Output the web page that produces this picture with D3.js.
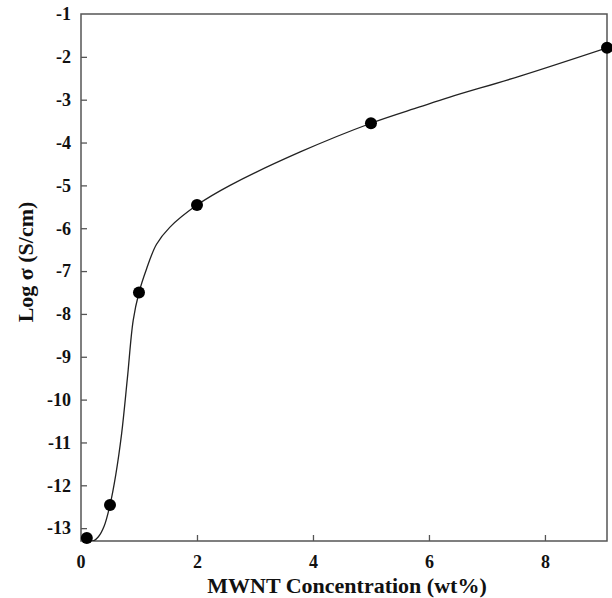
<!DOCTYPE html>
<html>
<head>
<meta charset="utf-8">
<script src="https://cdn.jsdelivr.net/npm/d3@7"></script>
<style>
  body { margin: 0; background: #fff; }
  svg { display: block; }
  text { font-family: "Liberation Serif", "Times New Roman", serif; font-weight: bold; fill: #111; }
</style>
</head>
<body>
<div id="chart"></div>
<script>
// measured points
var conc = [0.1, 0.5, 1, 2, 5, 9.07];
var logSigma = [-13.23, -12.46, -7.5, -5.46, -3.55, -1.79];

// fitted curve
var fitX = [0.1, 0.2, 0.3, 0.4, 0.5, 0.6, 0.7, 0.8, 0.9, 1.0, 1.13, 1.3, 1.53, 2.0, 2.57, 3.78, 5.0, 5.84, 6.36, 7.57, 9.07];
var fitY = [-13.23, -13.3, -13.2, -12.95, -12.46, -11.75, -10.8, -9.5, -8.15, -7.5, -6.95, -6.38, -5.98, -5.46, -5.0, -4.22, -3.55, -3.17, -2.94, -2.45, -1.79];

var xTicks = [2, 4, 6, 8];
var yTicks = [-2, -3, -4, -5, -6, -7, -8, -9, -10, -11, -12, -13];
var yLabels = [-1, -2, -3, -4, -5, -6, -7, -8, -9, -10, -11, -12, -13];

var W = 612, H = 598;
var margin = {left: 81, top: 14, right: 5, bottom: 57};
var w = W - margin.left - margin.right,
    h = H - margin.top - margin.bottom;

var svg = d3.select("#chart").append("svg")
    .attr("width", W)
    .attr("height", H);

var x = d3.scaleLinear().domain([0, 9.07]).range([0, w]);
var y = d3.scaleLinear().domain([-13.3, -1]).range([h, 0]);

var g = svg.append("g")
    .attr("transform", "translate(" + margin.left + "," + margin.top + ")");

g.append("clipPath").attr("id", "clip")
    .append("rect").attr("width", w).attr("height", h);

// ticks (inward)
var xAxis = d3.axisBottom(x).tickValues(xTicks).tickSize(-6).tickPadding(14).tickFormat(d3.format("d"));
var gx = g.append("g").attr("transform", "translate(0," + h + ")").call(xAxis);
gx.attr("font-family", null).attr("font-size", null);
gx.select(".domain").remove();
gx.selectAll("line").attr("stroke", "#555").attr("stroke-width", 1.3);
gx.selectAll("text").style("font-size", "18px").attr("fill", "#111");

var yAxis = d3.axisLeft(y).tickValues(yTicks).tickSize(-6).tickFormat("");
var gy = g.append("g").call(yAxis);
gy.select(".domain").remove();
gy.selectAll("line").attr("stroke", "#555").attr("stroke-width", 1.3);

g.selectAll(".ylab")
    .data(yLabels)
    .enter()
    .append("text")
    .attr("class", "ylab")
    .attr("x", -10)
    .attr("y", function(d) { return y(d); })
    .attr("dy", "0.35em")
    .attr("text-anchor", "end")
    .style("font-size", "18px")
    .text(function(d) { return d; });

// x = 0 label
g.append("text")
    .attr("x", x(0))
    .attr("y", h + 14)
    .attr("dy", "0.71em")
    .attr("text-anchor", "middle")
    .style("font-size", "18px")
    .text("0");

// frame
g.append("rect")
    .attr("width", w)
    .attr("height", h)
    .attr("fill", "none")
    .attr("stroke", "#555")
    .attr("stroke-width", 1.5);

// fit curve
var line = d3.line()
    .x(function(d, i) { return x(fitX[i]); })
    .y(function(d) { return y(d); })
    .curve(d3.curveCatmullRom.alpha(0.5));

g.append("path")
    .datum(fitY)
    .attr("clip-path", "url(#clip)")
    .attr("fill", "none")
    .attr("stroke", "#222")
    .attr("stroke-width", 1.3)
    .attr("d", line);

// points
g.selectAll(".pt")
    .data(logSigma)
    .enter()
    .append("circle")
    .attr("class", "pt")
    .attr("cx", function(d, i) { return x(conc[i]); })
    .attr("cy", function(d) { return y(d); })
    .attr("r", 6)
    .attr("fill", "#000");

// axis titles
svg.append("text")
    .attr("x", 347)
    .attr("y", 593)
    .attr("text-anchor", "middle")
    .style("font-size", "22px")
    .text("MWNT Concentration (wt%)");

svg.append("text")
    .attr("transform", "translate(33," + 262 + ") rotate(-90)")
    .attr("text-anchor", "middle")
    .style("font-size", "22px")
    .text("Log σ (S/cm)");
</script>
</body>
</html>
